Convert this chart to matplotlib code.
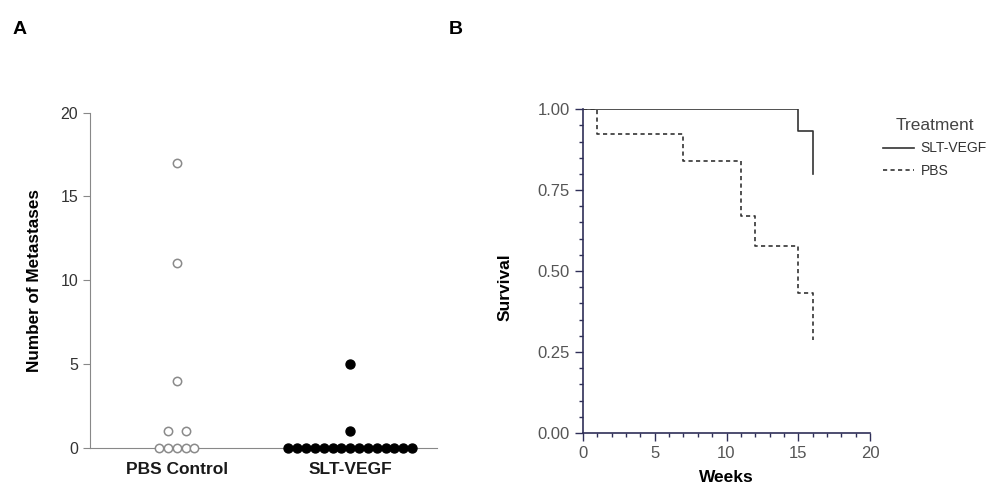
import numpy as np
import matplotlib.pyplot as plt
from matplotlib.ticker import MultipleLocator

plt.rcParams['font.family'] = ['Liberation Sans', 'DejaVu Sans']

# panel A: metastases per mouse
groups = ["PBS Control", "SLT-VEGF"]
pbs_mets = [17, 11, 4, 1, 1, 0, 0, 0, 0, 0]
slt_mets = [5, 1] + [0] * 15

# panel B: Kaplan-Meier steps
slt_weeks = [0, 15, 16]
slt_surv = [1.00, 0.933, 0.80]
pbs_weeks = [0, 1, 7, 11, 12, 15, 16]
pbs_surv = [1.00, 0.923, 0.84, 0.67, 0.577, 0.432, 0.288]
last_week = 16


def swarm(values, center, step=0.051):
    # spread equal values side by side
    xs, ys = [], []
    vals = np.array(values)
    for v in np.unique(vals):
        n = np.sum(vals == v)
        offs = (np.arange(n) - (n - 1) / 2) * step
        if n % 2 == 0:
            offs = offs * 2
        xs.extend(center + offs)
        ys.extend([v] * n)
    return np.array(xs), np.array(ys)


fig = plt.figure(figsize=(10, 4.96), dpi=100)

# ---- A ----
axA = fig.add_axes([0.09, 0.097, 0.347, 0.676])
x, y = swarm(pbs_mets, 1)
axA.scatter(x, y, s=36, facecolors="white", edgecolors="#8a8a8a", linewidths=1.1, clip_on=False, zorder=3)
x, y = swarm(slt_mets, 2)
axA.scatter(x, y, s=42, facecolors="black", edgecolors="black", clip_on=False, zorder=3)
axA.set_xlim(0.5, 2.5)
axA.set_ylim(0, 20)
axA.set_yticks([0, 5, 10, 15, 20])
axA.set_xticks([1, 2])
axA.set_xticklabels(groups, fontsize=12.5, fontweight="bold", color="#1a1a1a")
axA.tick_params(axis="x", length=0, pad=10)
axA.tick_params(axis="y", labelsize=11.5, labelcolor="#333333", length=5, color="#888888")
for s in ["top", "right"]:
    axA.spines[s].set_visible(False)
for s in ["left", "bottom"]:
    axA.spines[s].set_color("#888888")
axA.set_ylabel("Number of Metastases", fontsize=12.3, fontweight="bold", labelpad=13)

# ---- B ----
axB = fig.add_axes([0.583, 0.127, 0.287, 0.653])
navy = "#2f2f58"
axB.step(slt_weeks + [last_week], slt_surv + [slt_surv[-1]], where="post",
         color="#333333", lw=1.2, label="SLT-VEGF")
axB.step(pbs_weeks + [last_week], pbs_surv + [pbs_surv[-1]], where="post",
         color="#333333", lw=1.2, ls=(0, (2.5, 2)), label="PBS")
axB.set_xlim(0, 20)
axB.set_ylim(0, 1)
axB.set_xticks([0, 5, 10, 15, 20])
axB.set_yticks([0, 0.25, 0.5, 0.75, 1.0])
axB.set_yticklabels(["0.00", "0.25", "0.50", "0.75", "1.00"])
axB.xaxis.set_minor_locator(MultipleLocator(1))
axB.yaxis.set_minor_locator(MultipleLocator(0.05))
axB.tick_params(which="major", labelsize=12, labelcolor="#555555", color=navy, length=6, width=1)
axB.tick_params(which="minor", color=navy, length=3, width=1)
for s in ["top", "right"]:
    axB.spines[s].set_visible(False)
for s in ["left", "bottom"]:
    axB.spines[s].set_color(navy)
    axB.spines[s].set_linewidth(1.2)
axB.set_xlabel("Weeks", fontsize=12.5, fontweight="bold", labelpad=6)
axB.set_ylabel("Survival", fontsize=12.5, fontweight="bold")
axB.yaxis.set_label_coords(-0.245, 0.45)
leg = fig.legend(*axB.get_legend_handles_labels(), title="Treatment", loc="upper left",
                 bbox_to_anchor=(0.876, 0.776), frameon=False, fontsize=10,
                 title_fontsize=12.5, handlelength=2.2, handletextpad=0.5,
                 labelspacing=0.6, borderpad=0)
for t in leg.get_texts():
    t.set_color("#333333")
leg.get_title().set_color("#444444")

fig.text(0.02, 0.94, "A", fontsize=14, fontweight="bold", va="center", ha="center")
fig.text(0.456, 0.94, "B", fontsize=14, fontweight="bold", va="center", ha="center")

fig.savefig("out.png", dpi=100)
